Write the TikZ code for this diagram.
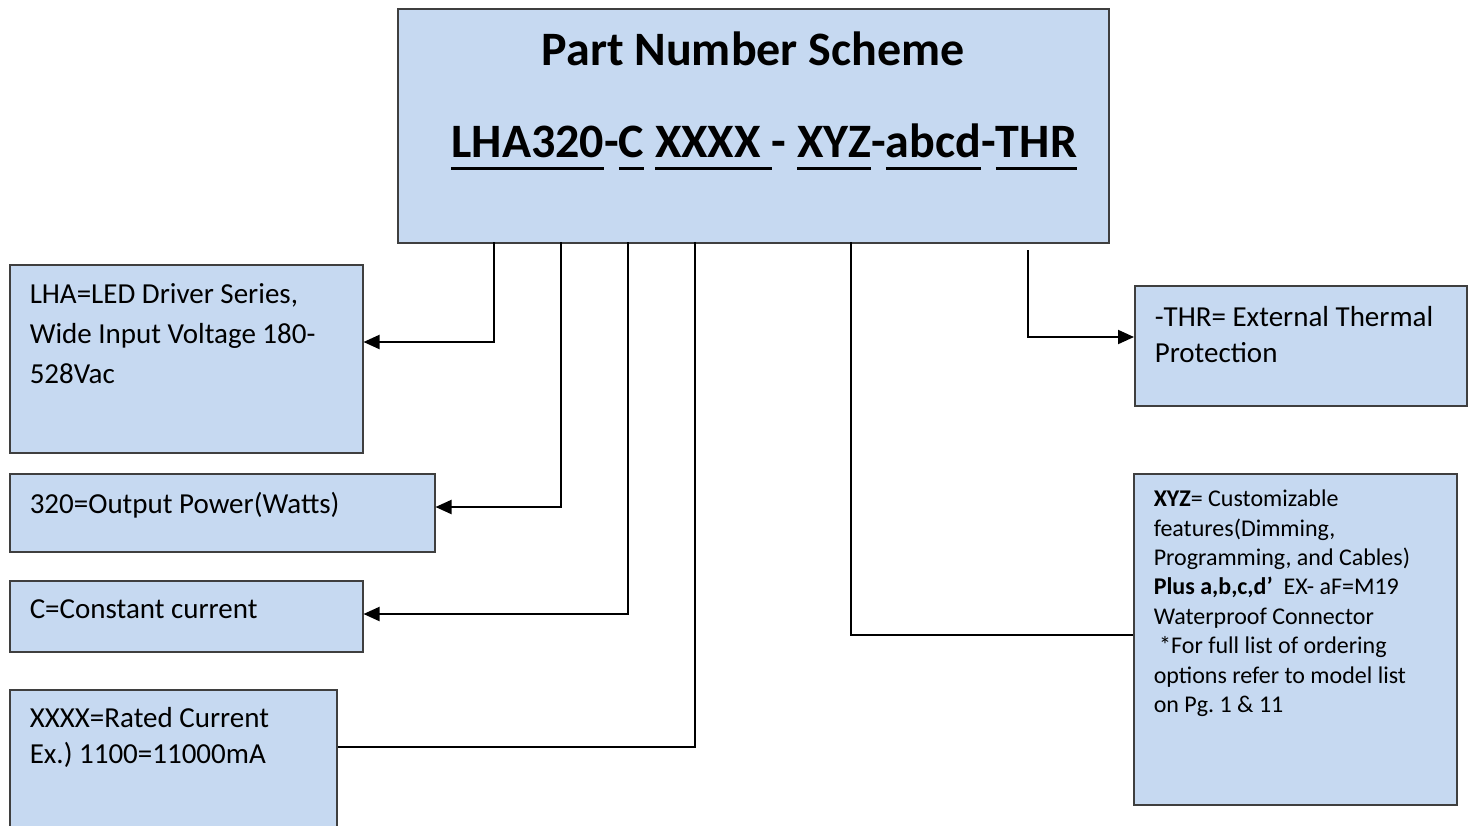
\documentclass[tikz,border=0pt]{standalone}
\usepackage{fontspec}
\setmainfont{Carlito}
\usepackage{tikz}
\usetikzlibrary{arrows.meta}

\definecolor{boxfill}{HTML}{C6D9F1}
\definecolor{boxline}{HTML}{3F3F3F}

% text block of a box: width, height, top pad, text
\newcommand{\boxtext}[4]{\parbox[t][#2][t]{#1}{\vspace*{#3}\raggedright\frenchspacing #4}}
% thick underline for the code segments
\newcommand{\segline}[1]{\leavevmode\begingroup\setbox0\hbox{#1}\rlap{\rule[-6pt]{\wd0}{1.3pt}}\box0\endgroup}

\begin{document}
\begin{tikzpicture}
    [
      x=0.5pt, y=-0.5pt,
      partbox/.style={draw=boxline,fill=boxfill,line width=0.75pt,inner xsep=10pt,inner ysep=0pt,anchor=north west},
      link/.style={line width=1pt},
      pointer/.style={link,-{Triangle[length=8pt,width=7pt]}},
    ]
    \useasboundingbox (0,0) rectangle (1470,825);

    \node (title) [partbox] at (397,8) {\boxtext{335.5pt}{117pt}{7.5pt}{\centering
      \fontsize{24}{30}\selectfont\bfseries\strut Part Number Scheme\\[16pt]
      \hspace*{11pt}\segline{LHA320}-\segline{C} \segline{XXXX\ }- \segline{XYZ}-\segline{abcd}-\segline{THR}}};

    \node (lha) [partbox] at (9,264) {\boxtext{156.5pt}{94pt}{5.5pt}{%
      \fontsize{14.5}{20}\selectfont\strut LHA=LED Driver Series,\\ Wide Input Voltage 180-\\ 528Vac}};
    \node (pow) [partbox] at (9,473) {\boxtext{192.5pt}{39pt}{6pt}{%
      \fontsize{14.5}{20}\selectfont\strut 320=Output Power(Watts)}};
    \node (cur) [partbox] at (9,580) {\boxtext{156.5pt}{35.5pt}{5pt}{%
      \fontsize{14.5}{20}\selectfont\strut C=Constant current}};
    \node (rat) [partbox] at (9,689) {\boxtext{143.5pt}{73pt}{6.4pt}{%
      \fontsize{14.5}{18}\selectfont\strut XXXX=Rated Current\\ Ex.) 1100=11000mA}};

    \node (thr) [partbox] at (1134,285) {\boxtext{146pt}{60pt}{7.9pt}{%
      \fontsize{14.5}{18}\selectfont\strut -THR= External Thermal\\ Protection}};
    \node (xyz) [partbox] at (1133,473) {\boxtext{141.5pt}{165.5pt}{6.2pt}{%
      \fontsize{12}{14.7}\selectfont\strut \textbf{XYZ}= Customizable\\ features(Dimming,\\
      Programming, and Cables)\\ \textbf{Plus a,b,c,d’}\ \ EX- aF=M19\\ Waterproof Connector\\
      \ *For full list of ordering\\ options refer to model list\\ on Pg. 1 \& 11}};

    % taps under the part number
    \coordinate (tap-lha) at (494,242);
    \coordinate (tap-pow) at (561,242);
    \coordinate (tap-cur) at (628,242);
    \coordinate (tap-rat) at (695,242);
    \coordinate (tap-xyz) at (851,242);
    \coordinate (tap-thr) at (1028,250);

    \draw [pointer] (tap-lha) |- ([yshift=-39pt]lha.north east);
    \draw [pointer] (tap-pow) |- ([yshift=-17pt]pow.north east);
    \draw [pointer] (tap-cur) |- ([yshift=-17pt]cur.north east);
    \draw [link] (tap-rat) |- ([yshift=-29pt]rat.north east);
    \draw [link] (tap-xyz) |- ([yshift=-81pt]xyz.north west);
    \draw [pointer] (tap-thr) |- ([yshift=-26pt]thr.north west);

  \end{tikzpicture}
\end{document}
